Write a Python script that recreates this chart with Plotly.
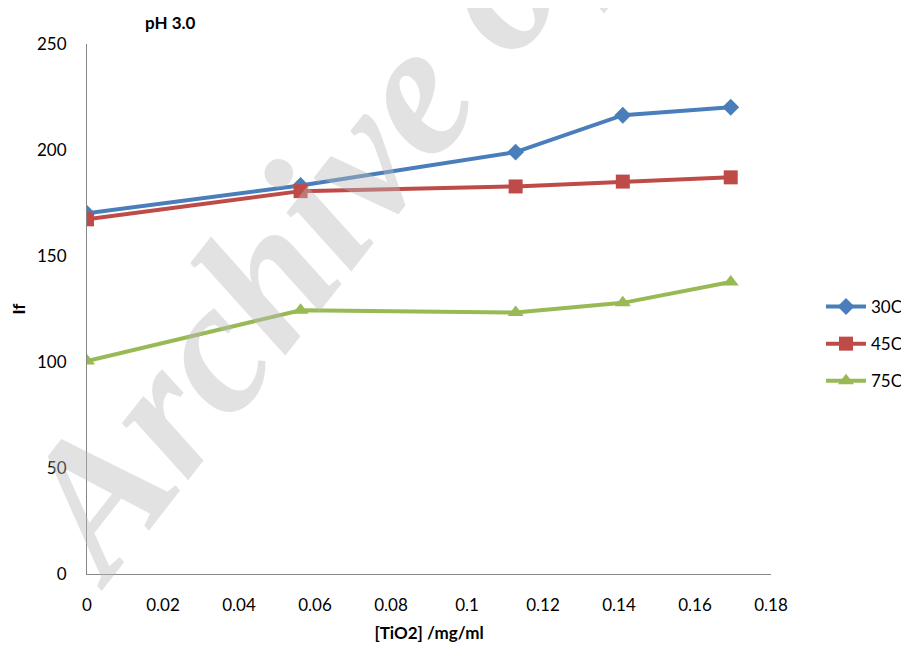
import plotly.graph_objects as go

# Data
tio2 = [0, 0.0562, 0.1128, 0.141, 0.1694]
series_names = ["30C", "45C", "75C"]
if_30c = [170.1, 183.3, 199.0, 216.4, 220.2]
if_45c = [167.3, 180.6, 182.8, 185.1, 187.1]
if_75c = [100.5, 124.4, 123.3, 127.9, 137.7]

x_ticks = [0, 0.02, 0.04, 0.06, 0.08, 0.1, 0.12, 0.14, 0.16, 0.18]
x_tick_text = ["0", "0.02", "0.04", "0.06", "0.08", "0.1", "0.12", "0.14", "0.16", "0.18"]
y_ticks = [0, 50, 100, 150, 200, 250]

colors = ["#4A7EBB", "#BE4B48", "#98B954"]
symbols = ["diamond", "square", "triangle-up"]
sizes = [13, 14, 14]

fig = go.Figure()
for name, ys, c, s, sz in zip(series_names, [if_30c, if_45c, if_75c], colors, symbols, sizes):
    fig.add_trace(go.Scatter(
        x=tio2, y=ys, name=name, mode="lines+markers", legendgroup=name,
        line=dict(color=c, width=4),
        marker=dict(symbol=s, size=sz, color=c),
    ))

font_family = "Lato, Open Sans, sans-serif"

# page has an 8px body margin, so the figure is offset by (8, 8)
L, R, T, B = 79, 146, 36, 80
W, H = 909, 646
pw, ph = W - L - R, H - T - B


def px(xf):
    return (xf - L) / pw


def py(yf):
    return (H - B - yf) / ph


fig.update_layout(
    width=W, height=H,
    margin=dict(l=L, r=R, t=T, b=B, autoexpand=False),
    paper_bgcolor="white", plot_bgcolor="white",
    font=dict(family=font_family, size=17, color="black"),
    showlegend=True,
    legend=dict(x=px(813), y=py(336), xanchor="left", yanchor="middle",
                font=dict(size=17), tracegroupgap=12, itemwidth=40,
                bgcolor="rgba(0,0,0,0)"),
    xaxis=dict(range=[0, 0.18], tickvals=x_ticks, ticktext=x_tick_text,
               automargin=False,
               showgrid=False, zeroline=False, showline=True,
               linecolor="#868686", linewidth=1, ticks="outside", ticklen=16,
               tickcolor="rgba(0,0,0,0)",
               tickfont=dict(size=17),
               title=dict(text="<b>[TiO2] /mg/ml</b>", font=dict(size=17), standoff=12)),
    yaxis=dict(range=[0, 250], tickvals=y_ticks,
               automargin=False,
               showgrid=False, zeroline=False, showline=True,
               linecolor="#868686", linewidth=1, ticks="outside", ticklen=16,
               tickcolor="rgba(0,0,0,0)",
               tickfont=dict(size=17),
               title=dict(text="<b>If</b>", font=dict(size=17), standoff=10)),
    annotations=[
        dict(text="<b>pH 3.0</b>", xref="paper", yref="paper",
             x=px(162), y=py(14), xanchor="center", yanchor="middle",
             showarrow=False, font=dict(size=17, family=font_family)),
        dict(text="Archive of SID", xref="paper", yref="paper",
             x=px(410), y=py(74), xanchor="center", yanchor="middle",
             showarrow=False, textangle=-52,
             font=dict(size=190, family="Liberation Serif", color="rgba(185,185,185,0.42)",
                       weight="bold", style="italic")),
    ],
)

fig.write_html("out.html")
